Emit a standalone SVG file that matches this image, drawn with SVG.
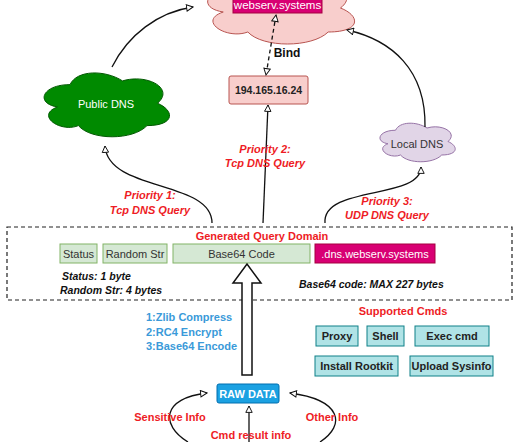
<svg xmlns="http://www.w3.org/2000/svg" xmlns:xlink="http://www.w3.org/1999/xlink" width="530" height="442" viewBox="0 0 530 442">
<style>
  text { font-family: "Liberation Sans", Arial, sans-serif; }
  .red { fill: #ee1c25; font-weight: bold; font-size: 11px; text-anchor: middle; }
  .redi { fill: #ee1c25; font-weight: bold; font-style: italic; font-size: 11px; text-anchor: middle; }
  .blk { fill: #111; font-weight: bold; font-style: italic; font-size: 10.5px; }
  .blue { fill: #3a9ad9; font-weight: bold; font-size: 11px; }
  .gbox { fill: #d5e8d4; stroke: #82b366; stroke-width: 1; }
  .tbox { fill: #b0e3e6; stroke: #0e8088; stroke-width: 1; }
  .btxt { fill: #333; font-size: 11px; text-anchor: middle; }
  .ctxt { fill: #222; font-size: 11px; font-weight: bold; text-anchor: middle; }
  .conn { fill: none; stroke: #111; stroke-width: 1.3; }
</style>
<defs>
  <path id="cloud" vector-effect="non-scaling-stroke" d="M25,25 C5,25 0,50 16,55 C0,66 18,90 31,80 C40,100 70,100 80,80 C100,80 100,60 87.5,50 C100,30 80,10 62.5,20 C50,5 30,5 25,25 Z"/>
  <marker id="arr" viewBox="0 0 10 10" refX="9" refY="5" markerWidth="8" markerHeight="8" orient="auto-start-reverse" markerUnits="userSpaceOnUse">
    <path d="M1,1 L9,5 L1,9 Z" fill="#fff" stroke="#111" stroke-width="1.2"/>
  </marker>
</defs>
<rect width="530" height="442" fill="#fff"/>

<g id="server">
  <use href="#cloud" transform="translate(197,-32) scale(1.64,0.8)" fill="#f8cecc" stroke="#b85450" stroke-width="1"/>
  <rect x="233" y="-10" width="89" height="23" fill="#d80073" stroke="#a50040"/>
  <text x="277.5" y="9" fill="#fff" font-size="11.5" text-anchor="middle">webserv.systems</text>
</g>

<g id="ip">
  <rect x="229" y="76" width="79" height="28" rx="2" fill="#f8cecc" stroke="#b85450"/>
  <text x="268.5" y="94" fill="#222" font-size="10.5" font-weight="bold" text-anchor="middle">194.165.16.24</text>
</g>

<g id="public-dns">
  <use href="#cloud" transform="translate(35,66) scale(1.4,0.745)" fill="#008a00" stroke="#005700" stroke-width="1"/>
  <text x="106" y="108" fill="#fff" font-size="11" text-anchor="middle">Public DNS</text>
</g>

<g id="local-dns">
  <use href="#cloud" transform="translate(374.5,119) scale(0.84,0.45)" fill="#e1d5e7" stroke="#9673a6" stroke-width="1"/>
  <text x="417" y="148" fill="#333" font-size="11" text-anchor="middle">Local DNS</text>
</g>

<g id="query-domain">
  <rect x="7" y="227" width="505" height="73" fill="none" stroke="#222" stroke-width="1.2" stroke-dasharray="4 3"/>
  <text class="red" x="262" y="240">Generated Query Domain</text>
  <rect class="gbox" x="60" y="244" width="37" height="19"/>
  <text class="btxt" x="78.5" y="257.5">Status</text>
  <rect class="gbox" x="103" y="244" width="64" height="19"/>
  <text class="btxt" x="135" y="257.5">Random Str</text>
  <rect class="gbox" x="173" y="244" width="137" height="19"/>
  <text class="btxt" x="241.5" y="257.5">Base64 Code</text>
  <rect x="315" y="244" width="120" height="19" fill="#d80073" stroke="#a50040"/>
  <text x="375" y="257.5" fill="#fff" font-size="11" text-anchor="middle">.dns.webserv.systems</text>
  <text class="blk" x="62" y="280">Status: 1 byte</text>
  <text class="blk" x="60" y="294">Random Str: 4 bytes</text>
  <text class="blk" x="299" y="288">Base64 code: MAX 227 bytes</text>
</g>

<g id="encode-arrow">
  <polygon points="242,375 252,375 252,283 261,283 247,264 233,283 242,283" fill="#fff" stroke="#111" stroke-width="1.5"/>
  <text class="blue" x="146" y="321">1:Zlib Compress</text>
  <text class="blue" x="146" y="336">2:RC4 Encrypt</text>
  <text class="blue" x="146" y="350">3:Base64 Encode</text>
</g>

<g id="cmds">
  <text class="red" x="403" y="315">Supported Cmds</text>
  <rect class="tbox" x="316" y="326" width="42" height="20"/>
  <text class="ctxt" x="337" y="340">Proxy</text>
  <rect class="tbox" x="367" y="326" width="37" height="20"/>
  <text class="ctxt" x="385.5" y="340">Shell</text>
  <rect class="tbox" x="415" y="326" width="74" height="20"/>
  <text class="ctxt" x="452" y="340">Exec cmd</text>
  <rect class="tbox" x="315" y="356" width="83" height="20"/>
  <text class="ctxt" x="356.5" y="370">Install Rootkit</text>
  <rect class="tbox" x="410" y="356" width="83" height="20"/>
  <text class="ctxt" x="451.5" y="370">Upload Sysinfo</text>
</g>

<g id="raw-data">
  <rect x="217" y="384" width="62" height="19" rx="2" fill="#1ba1e2" stroke="#006eaf"/>
  <text x="248" y="397.5" fill="#fff" font-size="11" font-weight="bold" text-anchor="middle">RAW DATA</text>
</g>

<g id="connectors">
  <path class="conn" d="M112,67 C128,35 158,12 193,7" marker-end="url(#arr)"/>
  <path class="conn" d="M425,127 C426,70 392,40 347,30" marker-end="url(#arr)"/>
  <path class="conn" d="M276,15 L266,75" stroke-dasharray="4 3" marker-start="url(#arr)" marker-end="url(#arr)"/>
  <path class="conn" d="M212,223 C212,180 108,192 105,146" marker-end="url(#arr)"/>
  <path class="conn" d="M263,223 L268,105" marker-end="url(#arr)"/>
  <path class="conn" d="M325,223 C322,185 421,200 421,167" marker-end="url(#arr)"/>
  <path class="conn" d="M188,442 C160,425 162,398 207,393" marker-end="url(#arr)"/>
  <path class="conn" d="M249,442 L249,406" marker-end="url(#arr)"/>
  <path class="conn" d="M320,442 C346,425 342,400 290,393" marker-end="url(#arr)"/>
</g>

<g id="labels">
  <text x="287" y="57" fill="#111" font-size="12" font-weight="bold" text-anchor="middle">Bind</text>
  <text class="redi" x="150" y="199">Priority 1:</text>
  <text class="redi" x="150" y="214">Tcp DNS Query</text>
  <text class="redi" x="265" y="153">Priority 2:</text>
  <text class="redi" x="265" y="167">Tcp DNS Query</text>
  <text class="redi" x="387" y="205">Priority 3:</text>
  <text class="redi" x="387" y="219">UDP DNS Query</text>
  <text class="red" x="170" y="421">Sensitive Info</text>
  <text class="red" x="332" y="421">Other Info</text>
  <text class="red" x="251" y="439">Cmd result info</text>
</g>
</svg>
